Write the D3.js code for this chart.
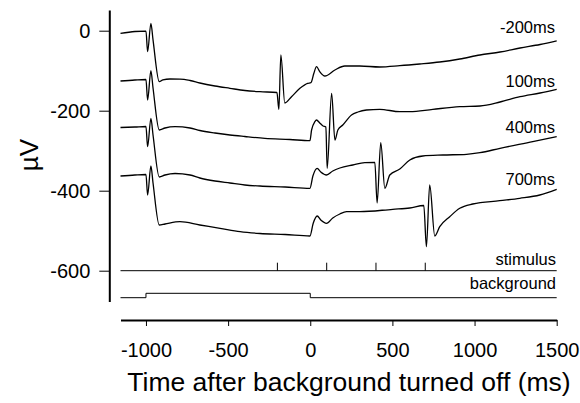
<!DOCTYPE html>
<html>
<head>
<meta charset="utf-8">
<script src="https://cdn.jsdelivr.net/npm/d3@7"></script>
<style>
  body { margin: 0; background: #fff; }
  text { font-family: Arial, "Liberation Sans", sans-serif; fill: #000; }
</style>
</head>
<body>
<svg id="chart" width="580" height="403"></svg>
<script>
// traces: [time ms, µV] (offsets included as drawn)
const traceNames = ["-200ms", "100ms", "400ms", "700ms"];
const stimTimes = [-200, 100, 400, 700];
const bgOn = [-1000, 0];

const trace200 = [
  [-1155, -6.5], [-1067, -2], [-1000, -1], [-990, -52.5], [-970, 18.5], [-957, -23],
  [-919, -127.5], [-897, -123], [-854, -120.75], [-793, -121], [-732, -124.5], [-672, -130.75],
  [-580, -138.25], [-489, -144], [-398, -149.5], [-306, -152.5], [-203, -154.5],
  [-191, -196.5], [-179, -60.75], [-155, -180.75], [-114, -165], [-63, -144], [-16, -131.5],
  [4, -130], [22, -106.5], [38, -90], [58, -102.5], [89, -113.25], [150, -98.25], [210, -88.25],
  [301, -88.25], [423, -90.75], [545, -87.5], [666, -83.25], [788, -78.25], [910, -70.75],
  [1033, -60.75], [1155, -53.25], [1277, -43.25], [1399, -34.5], [1500, -25.5]
];
const trace100 = [
  [-1155, -125.75], [-1067, -123.25], [-1000, -122], [-990, -173.25], [-970, -100], [-957, -143.25],
  [-919, -248.25], [-884, -243.25], [-823, -240], [-732, -243.25], [-672, -249.5], [-580, -255.75],
  [-489, -260.75], [-398, -264.5], [-276, -269], [-124, -272], [-2, -275], [8, -248.25],
  [28, -227.5], [38, -223.25], [58, -230.75], [78, -238.25], [95, -240.75],
  [103, -344], [130, -156.5], [150, -273.25], [168, -248.25], [198, -235.75], [251, -210.75],
  [290, -203.25], [342, -198.25], [423, -196.5], [545, -202.5], [606, -202.5], [746, -196.5],
  [910, -190], [1033, -188.25], [1155, -178.25], [1277, -165], [1399, -155.75], [1500, -146.5]
];
const trace400 = [
  [-1155, -242], [-1067, -240.75], [-1000, -239.5], [-990, -290], [-970, -219], [-957, -260.75],
  [-919, -365.75], [-884, -360.75], [-823, -357], [-732, -360.75], [-672, -368.25], [-580, -375.75],
  [-489, -380.75], [-398, -385.75], [-306, -388.25], [-153, -390.75], [-2, -394], [16, -363.25],
  [42, -344], [64, -353.25], [99, -360.75], [137, -350.75], [180, -343.25], [259, -335.75],
  [332, -330], [393, -329.5], [407, -430.75], [429, -280], [454, -394], [484, -360.75],
  [545, -345.75], [606, -323.25], [685, -313.25], [807, -310.75], [951, -309], [1033, -305],
  [1155, -294], [1354, -277.5], [1500, -265]
];
const trace700 = [
  [-1155, -363.25], [-1067, -360.75], [-1000, -359.5], [-990, -410.75], [-970, -338.25], [-957, -380.75],
  [-919, -485.75], [-884, -483.25], [-793, -477.5], [-672, -485.75], [-549, -494], [-427, -502.5],
  [-306, -507], [-153, -509.5], [-2, -513.25], [18, -481.5], [42, -463.25], [64, -473.25],
  [99, -481.5], [137, -468.25], [180, -458.25], [221, -452.5], [302, -452.5], [502, -446.5],
  [606, -443.25], [691, -437], [707, -540], [727, -385.75], [758, -513.25], [788, -490],
  [849, -465], [910, -444], [989, -433.25], [1153, -425], [1275, -419], [1397, -410.75], [1500, -396.5]
];
const traces = [trace200, trace100, trace400, trace700];

const xTicks = [-1000, -500, 0, 500, 1000, 1500];
const yTicks = [0, -200, -400, -600];

const svg = d3.select("#chart");

const x = d3.scaleLinear().domain([-1155, 1500]).range([120.5, 556.7]);
const y = d3.scaleLinear().domain([-677, 52]).range([301.5, 9.9]);

const fmt = d => String(d); // plain hyphen, no thousands comma

// y axis
const yAxis = svg.append("g")
  .attr("transform", "translate(109.3,0)")
  .call(d3.axisLeft(y).tickValues(yTicks).tickFormat(fmt).tickSize(10).tickSizeOuter(0).tickPadding(9));
yAxis.select(".domain").attr("stroke-width", 2);
yAxis.selectAll(".tick line").attr("stroke-width", 1);
yAxis.selectAll("text").style("font-size", "20px").attr("fill", "#000");

// x axis
const xAxis = svg.append("g")
  .attr("transform", "translate(0,320)")
  .call(d3.axisBottom(x).tickValues(xTicks).tickFormat(fmt).tickSize(6).tickSizeOuter(0).tickPadding(17));
xAxis.select(".domain").attr("stroke-width", 2);
xAxis.selectAll(".tick line").attr("stroke-width", 1);
xAxis.selectAll("text").style("font-size", "20px").attr("fill", "#000");

// traces
const line = d3.line().x(d => x(d[0])).y(d => y(d[1])).curve(d3.curveMonotoneX);
svg.append("g").selectAll("path")
  .data(traces)
  .join("path")
  .attr("d", line)
  .attr("fill", "none")
  .attr("stroke", "#000")
  .attr("stroke-width", 1.3)
  .attr("stroke-linejoin", "round");

const labelY = [33, 87, 133, 185];
svg.append("g").selectAll("text")
  .data(traceNames)
  .join("text")
  .attr("x", 555)
  .attr("y", (d, i) => labelY[i])
  .attr("text-anchor", "end")
  .style("font-size", "16.5px")
  .text(d => d);

// stimulus line
const stimY = y(-600);
svg.append("line")
  .attr("x1", x(-1155)).attr("x2", x(1500))
  .attr("y1", stimY).attr("y2", stimY)
  .attr("stroke", "#000").attr("stroke-width", 1);
svg.append("g").selectAll("line")
  .data(stimTimes)
  .join("line")
  .attr("x1", d => x(d)).attr("x2", d => x(d))
  .attr("y1", stimY).attr("y2", stimY - 8)
  .attr("stroke", "#000").attr("stroke-width", 1);
svg.append("text")
  .attr("x", 556).attr("y", 265)
  .attr("text-anchor", "end")
  .style("font-size", "16.5px")
  .text("stimulus");

// background line
const bgLow = 297.7, bgHigh = 293.3;
const bgPath = d3.path();
bgPath.moveTo(x(-1155), bgLow);
bgPath.lineTo(x(bgOn[0]), bgLow);
bgPath.lineTo(x(bgOn[0]), bgHigh);
bgPath.lineTo(x(bgOn[1]), bgHigh);
bgPath.lineTo(x(bgOn[1]), bgLow);
bgPath.lineTo(x(1500), bgLow);
svg.append("path")
  .attr("d", bgPath.toString())
  .attr("fill", "none")
  .attr("stroke", "#000").attr("stroke-width", 1);
svg.append("text")
  .attr("x", 556).attr("y", 289)
  .attr("text-anchor", "end")
  .style("font-size", "16.5px")
  .text("background");

// axis titles
svg.append("text")
  .attr("x", 349).attr("y", 391)
  .attr("text-anchor", "middle")
  .style("font-size", "26.5px")
  .text("Time after background turned off (ms)");

svg.append("text")
  .attr("transform", "rotate(-90)")
  .attr("x", -155).attr("y", 38)
  .attr("text-anchor", "middle")
  .style("font-size", "26px")
  .text("µV");
</script>
</body>
</html>
